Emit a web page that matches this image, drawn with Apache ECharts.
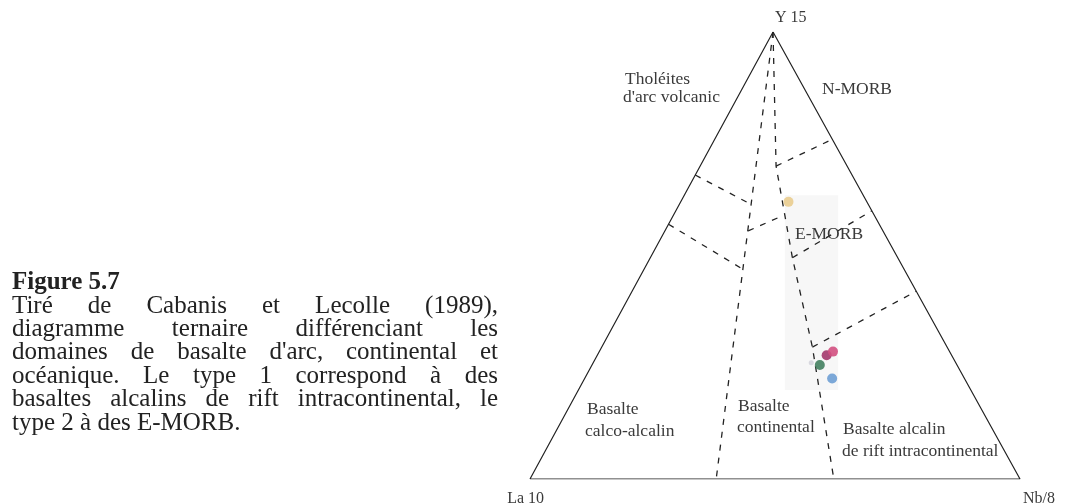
<!DOCTYPE html>
<html>
<head>
<meta charset="utf-8">
<script src="https://cdn.jsdelivr.net/npm/echarts@6/dist/echarts.min.js"></script>
<style>
html, body { margin: 0; padding: 0; background: #fff; }
#chart-container { width: 1069px; height: 503px; }
</style>
</head>
<body>
<div id="chart-container"></div>
<script>
// compositions are [La/10, Y/15, Nb/8] in %
let vertexLabels = ['La 10', 'Y 15', 'Nb/8'];
let frame = [[100, 0, 0], [0, 100, 0], [0, 0, 100], [100, 0, 0]];

// field boundaries (dashed)
let lineA = [[0, 100, 0], [62, 0, 38]];
let lineB = [[0, 100, 0], [14.5, 70, 15.5], [21.5, 49.5, 29], [27.5, 29.5, 43], [38, 0, 62]];
let lineC = [[32, 68, 0], [24, 61.5, 14.5]];
let lineD = [[43, 57, 0], [33, 47, 20]];
let lineE = [[27.5, 55.5, 17], [18.5, 59, 22.5]];
let lineF = [[14.5, 70, 15.5], [0, 76, 24]];
let lineG = [[21.5, 49.5, 29], [0, 60, 40]];
let lineH = [[27.5, 29.5, 43], [0, 42, 58]];
let boundaries = [lineA, lineB, lineC, lineD, lineE, lineF, lineG, lineH];

// analysed samples
let samples = [[16, 62, 22], [25.5, 27.7, 46.8], [23.8, 28.5, 47.7], [28, 25.5, 46.5], [27, 22.5, 50.5], [29.5, 26, 44.5]];
let sampleColors = ['#e9cc8e', '#a3376c', '#d24f7f', '#43805f', '#6e9fd4', '#d4d4dc'];
let sampleSizes = [10, 10, 10, 10, 10, 5];

let captionTitle = 'Figure 5.7';
let captionLines = [
    'Tiré de Cabanis et Lecolle (1989),',
    'diagramme ternaire différenciant les',
    'domaines de basalte d\'arc, continental et',
    'océanique. Le type 1 correspond à des',
    'basaltes alcalins de rift intracontinental, le',
    'type 2 à des E-MORB.'
];

const APEX_X = 0.496;
function toXY(p) {
    let y = p[1] / 100;
    return [p[2] / 100 + APEX_X * y, y];
}

let dom = document.getElementById('chart-container');
let myChart = echarts.init(dom, null, { renderer: 'canvas' });

const SERIF = '"Liberation Serif", "Times New Roman", serif';
const CAP_LEFT = 12, CAP_RIGHT = 498;
let measure = document.createElement('canvas').getContext('2d');

function captionLine(line, baseline, justify) {
    measure.font = '25px ' + SERIF;
    let words = line.split(' ');
    let widths = words.map(w => measure.measureText(w).width);
    let total = widths.reduce((a, b) => a + b, 0);
    let gap = justify ? (CAP_RIGHT - CAP_LEFT - total) / (words.length - 1) : measure.measureText(' ').width;
    let x = CAP_LEFT;
    return words.map((w, i) => {
        let el = {
            type: 'text', x: x, y: baseline - 8, z: 100,
            style: { text: w, font: '25px ' + SERIF, fill: '#222', textVerticalAlign: 'middle' }
        };
        x += widths[i] + gap;
        return el;
    });
}

function label(text, x, y, size, align) {
    return {
        type: 'text', x: x, y: y, z: 100,
        style: { text: text, font: (size || 17.5) + 'px ' + SERIF, fill: '#3a3a3a', textAlign: align || 'left', textVerticalAlign: 'middle' }
    };
}

let graphics = [
    {
        type: 'text', x: CAP_LEFT, y: 283, z: 100,
        style: { text: captionTitle, font: 'bold 25px ' + SERIF, fill: '#222', textVerticalAlign: 'middle' }
    }
];
captionLines.forEach((l, i) => {
    graphics = graphics.concat(captionLine(l, 314 + i * 23.4, i < captionLines.length - 1));
});
graphics.push(
    label(vertexLabels[1], 775, 18, 16),
    label(vertexLabels[0], 544, 499, 16, 'right'),
    label(vertexLabels[2], 1023, 499, 16),
    label('Tholéites', 625, 79),
    label('d\'arc volcanic', 623, 97),
    label('N-MORB', 822, 89),
    label('E-MORB', 795, 234),
    label('Basalte', 587, 409),
    label('calco-alcalin', 585, 431),
    label('Basalte', 738, 406),
    label('continental', 737, 427),
    label('Basalte alcalin', 843, 429),
    label('de rift intracontinental', 842, 451)
);

let series = [
    {
        type: 'line', data: frame.map(toXY), symbol: 'none', silent: true,
        lineStyle: { color: '#222', width: 1.2 },
        markArea: {
            silent: true,
            itemStyle: { color: '#f7f7f7' },
            data: [[{ coord: [0.52, 0.635] }, { coord: [0.629, 0.199] }]]
        },
        z: 3
    }
];
boundaries.forEach(b => {
    series.push({
        type: 'line', data: b.map(toXY), symbol: 'none', silent: true,
        lineStyle: { color: '#222', width: 1.3, type: [6, 7] }, z: 3
    });
});
series.push({
    type: 'scatter',
    data: samples.map((p, i) => ({
        value: toXY(p),
        symbolSize: sampleSizes[i],
        itemStyle: { color: sampleColors[i], opacity: 0.9 }
    })),
    z: 4
});

let option = {
    backgroundColor: '#fff',
    animation: false,
    grid: { left: 530, right: 49, top: 32, bottom: 24 },
    xAxis: { type: 'value', min: 0, max: 1, show: false },
    yAxis: { type: 'value', min: 0, max: 1, show: false },
    graphic: graphics,
    series: series
};

myChart.setOption(option);
window.addEventListener('resize', myChart.resize);
</script>
</body>
</html>
